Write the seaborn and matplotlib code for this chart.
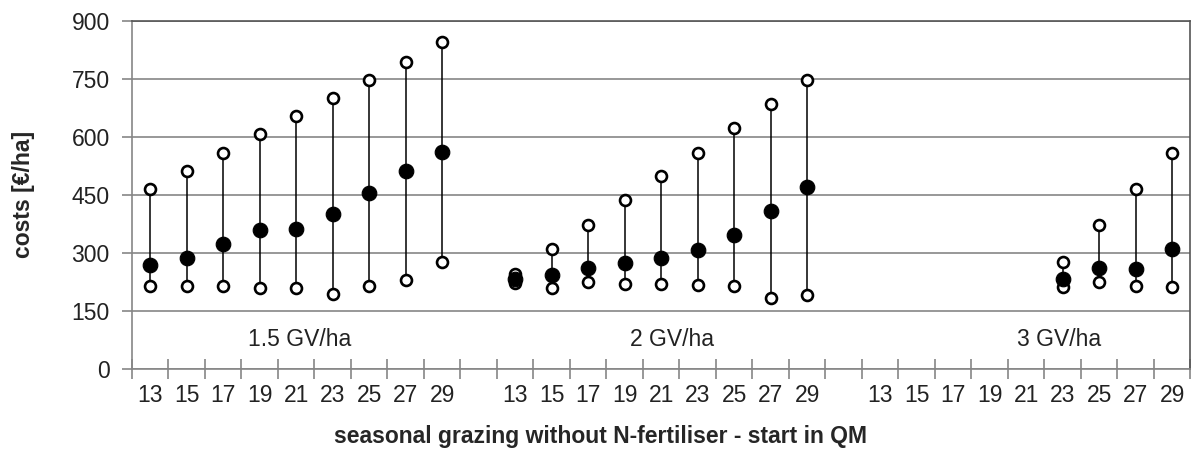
import numpy as np
import pandas as pd
import matplotlib
matplotlib.use("Agg")
import matplotlib.pyplot as plt
import seaborn as sns

# start week in QM (same for all three stocking rates)
starts = [13, 15, 17, 19, 21, 23, 25, 27, 29]
groups = ["1.5 GV/ha", "2 GV/ha", "3 GV/ha"]

# costs [€/ha]: lower bound, mean, upper bound  (None = no value)
low_15 = [213, 215, 215, 209, 209, 193, 213, 230, 276]
mean_15 = [269, 286, 322, 359, 361, 401, 454, 512, 561]
high_15 = [464, 511, 558, 608, 654, 701, 748, 794, 845]

low_2 = [222, 208, 224, 220, 220, 217, 214, 184, 191]
mean_2 = [231, 243, 260, 274, 287, 307, 346, 409, 469]
high_2 = [246, 310, 373, 437, 499, 558, 622, 685, 748]

low_3 = [None, None, None, None, None, 211, 224, 214, 211]
mean_3 = [None, None, None, None, None, 231, 260, 257, 310]
high_3 = [None, None, None, None, None, 277, 373, 466, 559]

# =========================================================
# tidy table (one empty category between groups)
# =========================================================
rows = []
for g, (lo, me, hi) in enumerate([(low_15, mean_15, high_15),
                                  (low_2, mean_2, high_2),
                                  (low_3, mean_3, high_3)]):
    for j, s in enumerate(starts):
        rows.append({"group": groups[g], "start": s, "pos": g * 10 + j,
                     "low": lo[j], "mean": me[j], "high": hi[j]})
df = pd.DataFrame(rows).astype({"low": float, "mean": float, "high": float})
valid = df.dropna()

sns.set_theme(style="white")
plt.rcParams["font.family"] = ["Liberation Sans", "DejaVu Sans"]

fig = plt.figure(figsize=(12, 4.53), dpi=100)
ax = fig.add_axes([0.11, 0.186, 0.882, 0.768])

fs = 16.5
grid_col = "#868686"
ax.set_ylim(0, 900)
ax.set_yticks(np.arange(0, 901, 150))
ax.yaxis.grid(True, color=grid_col, linewidth=1.2)
ax.set_axisbelow(True)

# range lines
ax.vlines(valid["pos"], valid["low"], valid["high"], color="black", linewidth=1.1, zorder=2)

# open circles for lower/upper, filled for mean
bounds = pd.concat([valid[["pos", "low"]].rename(columns={"low": "cost"}),
                    valid[["pos", "high"]].rename(columns={"high": "cost"})])
sns.scatterplot(data=bounds, x="pos", y="cost", ax=ax, s=62, facecolor="white",
                edgecolor="black", linewidth=1.9, zorder=3, legend=False)
sns.scatterplot(data=valid, x="pos", y="mean", ax=ax, s=110, color="black",
                edgecolor="black", zorder=4, legend=False)

# x axis: labels at category centres, tick marks at category borders
n_cat = 29
ax.set_xlim(-0.5, n_cat - 0.5)
ax.set_xticks(df["pos"])
ax.set_xticklabels(df["start"].astype(str))
ax.set_xticks(np.arange(-0.5, n_cat, 1), minor=True)
ax.tick_params(axis="x", which="major", length=0, pad=11, labelsize=fs, colors="#222222")
ax.tick_params(axis="x", which="minor", direction="inout", length=14, width=1.2, color=grid_col)
ax.tick_params(axis="y", which="major", direction="out", length=7, width=1.2, color=grid_col,
               labelsize=fs, labelcolor="#222222", pad=9)
ax.tick_params(axis="y", left=True)
ax.tick_params(axis="x", which="minor", bottom=True)

for side in ["left", "bottom", "right", "top"]:
    ax.spines[side].set_visible(True)
    ax.spines[side].set_color(grid_col)
    ax.spines[side].set_linewidth(1.2)
ax.spines["top"].set_color("#555555")
ax.spines["right"].set_color("#555555")

# stocking rate labels
for txt, xp in zip(groups, [4.1, 14.3, 24.9]):
    ax.text(xp, 76, txt, ha="center", va="center", fontsize=fs, color="#222222")

ax.set_xlabel("")
ax.set_ylabel("costs [€/ha]", fontsize=fs, fontweight="bold", labelpad=26)
fig.text(0.5, 0.037, "seasonal grazing without N-fertiliser - start in QM",
         ha="center", va="center", fontsize=fs, fontweight="bold")

fig.savefig("out.png", dpi=100)
